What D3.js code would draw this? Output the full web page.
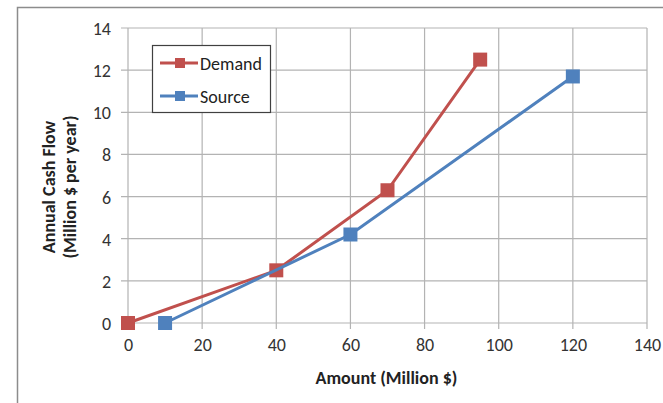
<!DOCTYPE html>
<html>
<head>
<meta charset="utf-8">
<script src="https://cdn.jsdelivr.net/npm/d3@7"></script>
<style>
  html, body { margin: 0; padding: 0; background: #fff; }
  svg { display: block; }
  text { font-family: Carlito, Lato, "Open Sans", sans-serif; }
</style>
</head>
<body>
<svg id="chart" width="663" height="403"></svg>
<script>
// Series data: amount (Million $) vs annual cash flow (Million $ per year)
const demandX = [0, 40, 70, 95];
const demandY = [0, 2.5, 6.3, 12.5];
const sourceX = [10, 60, 120];
const sourceY = [0, 4.2, 11.7];
const seriesNames = ["Demand", "Source"];
const xTicks = [0, 20, 40, 60, 80, 100, 120, 140];
const yTicks = [0, 2, 4, 6, 8, 10, 12, 14];

const colors = { Demand: "#C0504D", Source: "#4F81BD" };
const fontStack = "Carlito, Lato, 'Open Sans', sans-serif";
const svg = d3.select("#chart");

// outer chart frame
svg.append("path")
  .attr("d", "M17.5,403 V7.5 H663")
  .attr("fill", "none").attr("stroke", "#8c8c8c").attr("stroke-width", 1.5);

const plot = { left: 128, right: 647, top: 28, bottom: 323 };
const x = d3.scaleLinear().domain([0, 140]).range([plot.left, plot.right]);
const y = d3.scaleLinear().domain([0, 14]).range([plot.bottom, plot.top]);

// gridlines with short outside tick marks
const grid = svg.append("g").attr("stroke", "#b3b3b3").attr("stroke-width", 1.2);
xTicks.forEach(t => grid.append("line")
  .attr("x1", x(t)).attr("x2", x(t)).attr("y1", plot.top).attr("y2", plot.bottom + 6));
yTicks.forEach(t => grid.append("line")
  .attr("x1", plot.left - 7).attr("x2", plot.right).attr("y1", y(t)).attr("y2", y(t)));

// axes (labels only; lines are drawn by the grid)
const xAxis = svg.append("g").attr("transform", `translate(0,${plot.bottom})`)
  .call(d3.axisBottom(x).tickValues(xTicks).tickSize(0).tickPadding(17));
const yAxis = svg.append("g").attr("transform", `translate(${plot.left},0)`)
  .call(d3.axisLeft(y).tickValues(yTicks).tickSize(0).tickPadding(17));
[xAxis, yAxis].forEach(a => {
  a.select(".domain").remove();
  a.attr("font-size", 18).attr("font-family", fontStack);
  a.selectAll("text").attr("fill", "#333");
});
xAxis.selectAll("text").attr("dy", "0.6em");
yAxis.selectAll("text").attr("dy", "0.36em");

// series
const line = d3.line().x(d => x(d[0])).y(d => y(d[1]));
const series = [
  { name: "Demand", pts: demandX.map((v, i) => [v, demandY[i]]) },
  { name: "Source", pts: sourceX.map((v, i) => [v, sourceY[i]]) }
];
const ms = 14;
series.forEach(s => {
  svg.append("path").datum(s.pts).attr("d", line)
    .attr("fill", "none").attr("stroke", colors[s.name]).attr("stroke-width", 3);
  svg.append("g").selectAll("rect").data(s.pts).join("rect")
    .attr("x", d => x(d[0]) - ms / 2).attr("y", d => y(d[1]) - ms / 2)
    .attr("width", ms).attr("height", ms).attr("fill", colors[s.name]);
});

// axis titles
svg.append("text").attr("x", (plot.left + plot.right) / 2 - 1).attr("y", 384)
  .attr("text-anchor", "middle").attr("font-size", 18).attr("font-weight", "bold")
  .attr("fill", "#222").text("Amount (Million $)");
const yTitle = svg.append("text").attr("transform", "translate(59,187) rotate(-90)")
  .attr("text-anchor", "middle").attr("font-size", 18).attr("font-weight", "bold")
  .attr("fill", "#222");
yTitle.append("tspan").attr("x", 0).attr("dy", -4).text("Annual Cash Flow");
yTitle.append("tspan").attr("x", 0).attr("dy", 21).text("(Million $ per year)");

// legend
const lg = svg.append("g");
lg.append("rect").attr("x", 152.5).attr("y", 45.5).attr("width", 118).attr("height", 67)
  .attr("fill", "#fff").attr("stroke", "#404040").attr("stroke-width", 1.2);
seriesNames.forEach((n, i) => {
  const cy = 63 + i * 33;
  lg.append("line").attr("x1", 160).attr("x2", 198).attr("y1", cy).attr("y2", cy)
    .attr("stroke", colors[n]).attr("stroke-width", 3);
  lg.append("rect").attr("x", 175).attr("y", cy - 5).attr("width", 10).attr("height", 10)
    .attr("fill", colors[n]);
  lg.append("text").attr("x", 200).attr("y", cy + 6.5).attr("font-size", 18)
    .attr("fill", "#222").text(n);
});
</script>
</body>
</html>
